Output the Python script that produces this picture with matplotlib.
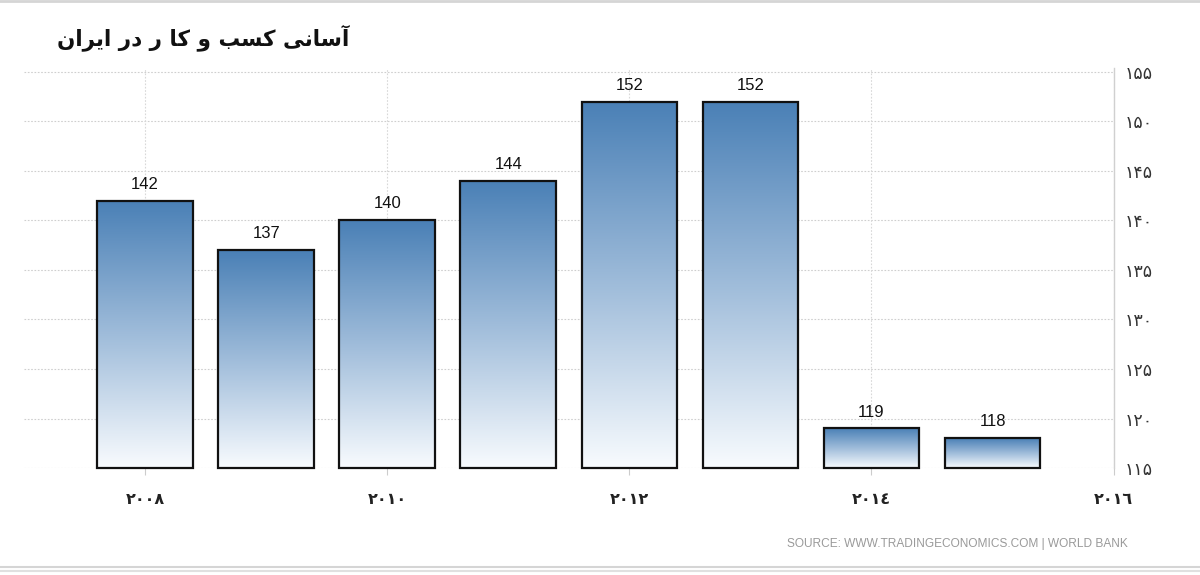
import numpy as np
import matplotlib
matplotlib.use("Agg")
import matplotlib.pyplot as plt
from matplotlib.colors import LinearSegmentedColormap
from matplotlib.lines import Line2D

# data
years = [2008, 2009, 2010, 2011, 2012, 2013, 2014, 2015]
values = [142, 137, 140, 144, 152, 152, 119, 118]
y_ticks = [115, 120, 125, 130, 135, 140, 145, 150, 155]
x_ticks = [2008, 2010, 2012, 2014, 2016]
x_tick_labels = ["\u0662\u0660\u0660\u0668", "\u0662\u0660\u0661\u0660", "\u0662\u0660\u0661\u0662",
                 "\u0662\u0660\u0661\u0664", "\u0662\u0660\u0661\u0666"]
source = "SOURCE: WWW.TRADINGECONOMICS.COM | WORLD BANK"

# Persian title "آسانی کسب و کا ر در ایران", written with presentation forms
# in visual (left to right) order, as matplotlib has no Arabic shaping
title_words = [
    "\uFEE5\uFE8D\uFEAE\uFEF3\uFE8D",   # ایران
    "\uFEAD\uFEA9",                     # در
    "\uFEAD",                           # ر
    "\uFE8E\uFB90",                     # کا
    "\uFEED",                           # و
    "\uFE90\uFEB4\uFB90",               # کسب
    "\uFBFD\uFEE7\uFE8E\uFEB3\uFE81",   # آسانی
]
title = " ".join(title_words)

fa_digits = "\u06F0\u06F1\u06F2\u06F3\u06F4\u06F5\u06F6\u06F7\u06F8\u06F9"
def to_fa(n):
    return "".join(fa_digits[int(c)] for c in str(n))

ymin, ymax = 115, 155.4
bar_w = 0.79

fig = plt.figure(figsize=(12, 5.75), dpi=100)
ax = fig.add_axes([0.02, 0.186, 0.908, 0.696])

cmap = LinearSegmentedColormap.from_list("grad", ["#f8fbfe", "#9fbcda", "#4a80b6"])
grad = np.linspace(0, 1, 256).reshape(-1, 1)

bars = ax.bar(years, [v - ymin for v in values], bottom=ymin, width=bar_w,
              facecolor="none", edgecolor="#111111", linewidth=1.6, zorder=3, clip_on=False)
for b, v in zip(bars, values):
    x0 = b.get_x()
    ax.imshow(grad, cmap=cmap, aspect="auto", origin="lower",
              extent=[x0, x0 + b.get_width(), ymin, v], zorder=2, interpolation="bicubic")
    ax.text(b.get_x() + b.get_width() / 2, v + 0.9, str(v), ha="center", va="bottom",
            fontsize=12, color="#111111", family="Liberation Sans")

ax.set_xlim(2007, 2016)
ax.set_ylim(ymin, ymax)

# grid
for y in y_ticks:
    ax.axhline(y, color="#cfcfcf", lw=0.8, ls=(0, (1.5, 1.5)), zorder=1)
for x in x_ticks:
    ax.axvline(x, color="#d8d8d8", lw=0.8, ls=(0, (1.5, 1.5)), zorder=1)

for s in ["top", "left", "bottom"]:
    ax.spines[s].set_visible(False)
ax.spines["right"].set_color("#d0d0d0")
ax.spines["right"].set_linewidth(1.0)

ax.yaxis.tick_right()
ax.set_yticks(y_ticks)
ax.set_yticklabels([to_fa(t) for t in y_ticks], family="DejaVu Sans", fontsize=12.5, color="#333333")
ax.tick_params(axis="y", length=0, pad=8)
ax.set_xticks(x_ticks)
ax.set_xticklabels(x_tick_labels, family="DejaVu Sans", fontsize=11.5, color="#222222", fontweight="bold")
ax.tick_params(axis="x", length=5, color="#cccccc", pad=12)

fig.text(57 / 1200, 1 - 38 / 575, title, ha="left", va="center", fontsize=15.5,
         fontweight="bold", family="DejaVu Sans", color="#111111")
fig.text(1128 / 1200, 1 - 544 / 575, source, ha="right", va="center", fontsize=8.6,
         family="Liberation Sans", color="#9a9a9a")

# frame lines of the picture
fig.add_artist(Line2D([0, 1], [1 - 1 / 575, 1 - 1 / 575], color="#d5d5d5", lw=2))
fig.add_artist(Line2D([0, 1], [1 - 567 / 575, 1 - 567 / 575], color="#d5d5d5", lw=1.5))
fig.add_artist(Line2D([0, 1], [1 - 571 / 575, 1 - 571 / 575], color="#e0e0e0", lw=1.5))

fig.savefig("out.png", dpi=100)
